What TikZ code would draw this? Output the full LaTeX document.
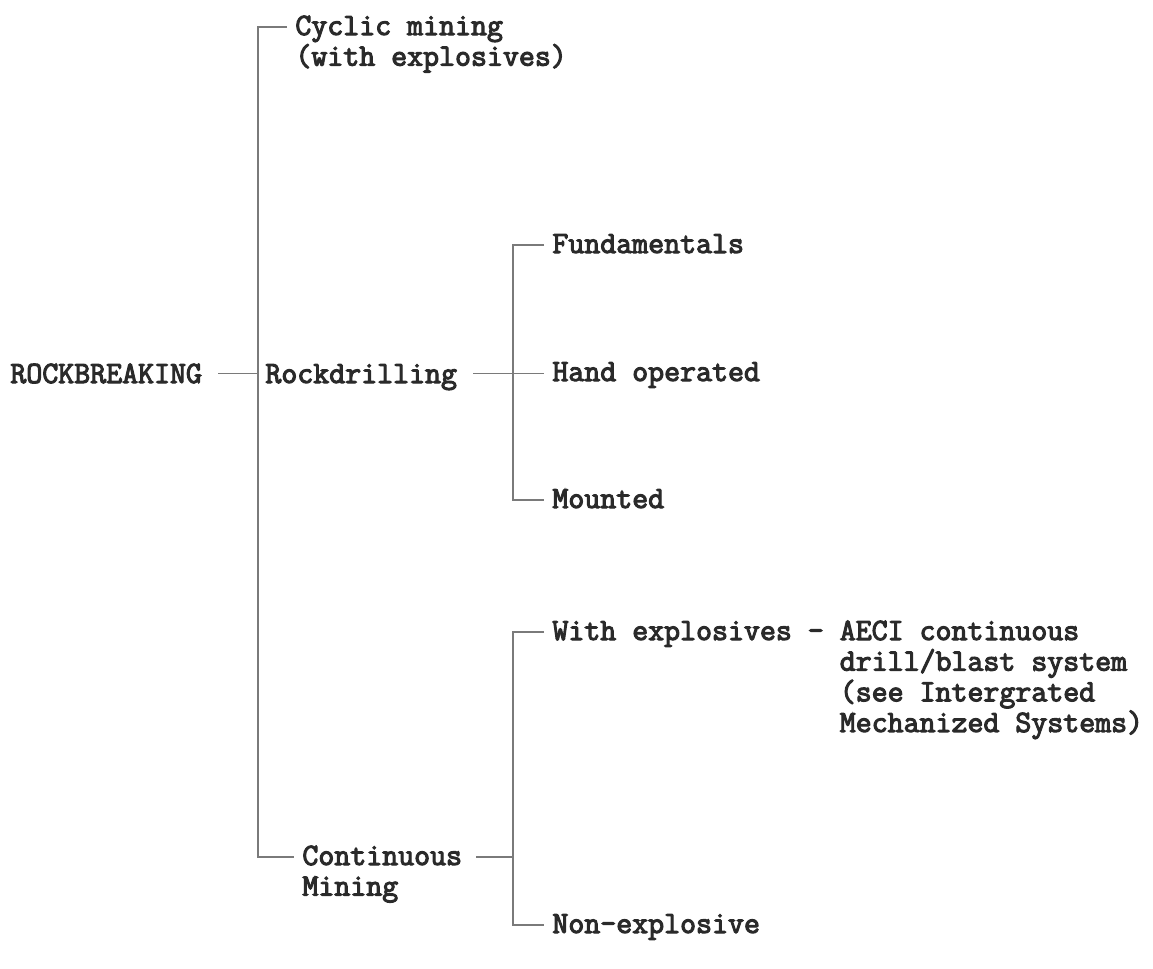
\documentclass[tikz,border=0pt]{standalone}
\usepackage{fontspec}
\setmonofont{Latin Modern Mono}[AutoFakeBold=3.5]
\usepackage{tikz}
\usetikzlibrary{positioning, calc}
\definecolor{ink}{HTML}{2A2A2A}
\definecolor{rule}{HTML}{7A7A7A}
\newcommand{\textlines}[1]{\begin{tabular}[t]{@{}l@{}}#1\end{tabular}}
\newcommand{\weindent}{\hphantom{With explosives - }}

\begin{document}
\begin{tikzpicture}[
  x=0.5pt, y=-0.5pt,
  lbl/.style={anchor=base west, inner xsep=4pt, inner ysep=0pt, text=ink,
              font=\ttfamily\bfseries\fontsize{15.5}{15.25}\selectfont},
  branch/.style={draw=rule, line width=0.85pt},
]
  \useasboundingbox (0,0) rectangle (1153,969);

  % level 0 and 1
  \node[lbl] (rb) at (2,383) {ROCKBREAKING};
  \node[lbl] (cyc) at (287,35) {\textlines{Cyclic mining\\(with explosives)}};
  \node[lbl] (rd) at (257,383) {Rockdrilling};
  \node[lbl] (cm) at (294,865) {\textlines{Continuous\\Mining}};

  % level 2 under rockdrilling
  \node[lbl] (fu) at (544,253) {Fundamentals};
  \node[lbl] (ho) at (544,381) {Hand operated};
  \node[lbl] (mo) at (544,508) {Mounted};

  % level 2 under continuous mining
  \node[lbl] (we) at (544,640) {\textlines{With explosives - AECI continuous\\
    \weindent drill/blast system\\
    \weindent (see Intergrated\\
    \weindent Mechanized Systems)}};
  \node[lbl] (ne) at (544,933) {Non-explosive};

  % trunk
  \coordinate (trunkA) at (258,27);
  \coordinate (trunkB) at (258,857);
  \draw[branch] (cyc.west |- trunkA) -- (trunkA) -- (trunkB) -- (cm.west |- trunkB);
  \draw[branch] ([xshift=4pt]rb.east) -- (rd.west |- rb.east);

  % rockdrilling fork
  \coordinate (forkA) at (513,245);
  \coordinate (forkB) at (513,500);
  \draw[branch] (fu.west |- forkA) -- (forkA) -- (forkB) -- (mo.west |- forkB);
  \draw[branch] ([xshift=4pt]rd.east |- rb.east) -- (ho.west |- rb.east);

  % continuous mining fork
  \coordinate (forkC) at (513,632);
  \coordinate (forkD) at (513,925);
  \draw[branch] (we.west |- forkC) -- (forkC) -- (forkD) -- (ne.west |- forkD);
  \draw[branch] ([xshift=3pt]cm.east |- trunkB) -- (trunkB -| forkC);
\end{tikzpicture}
\end{document}
